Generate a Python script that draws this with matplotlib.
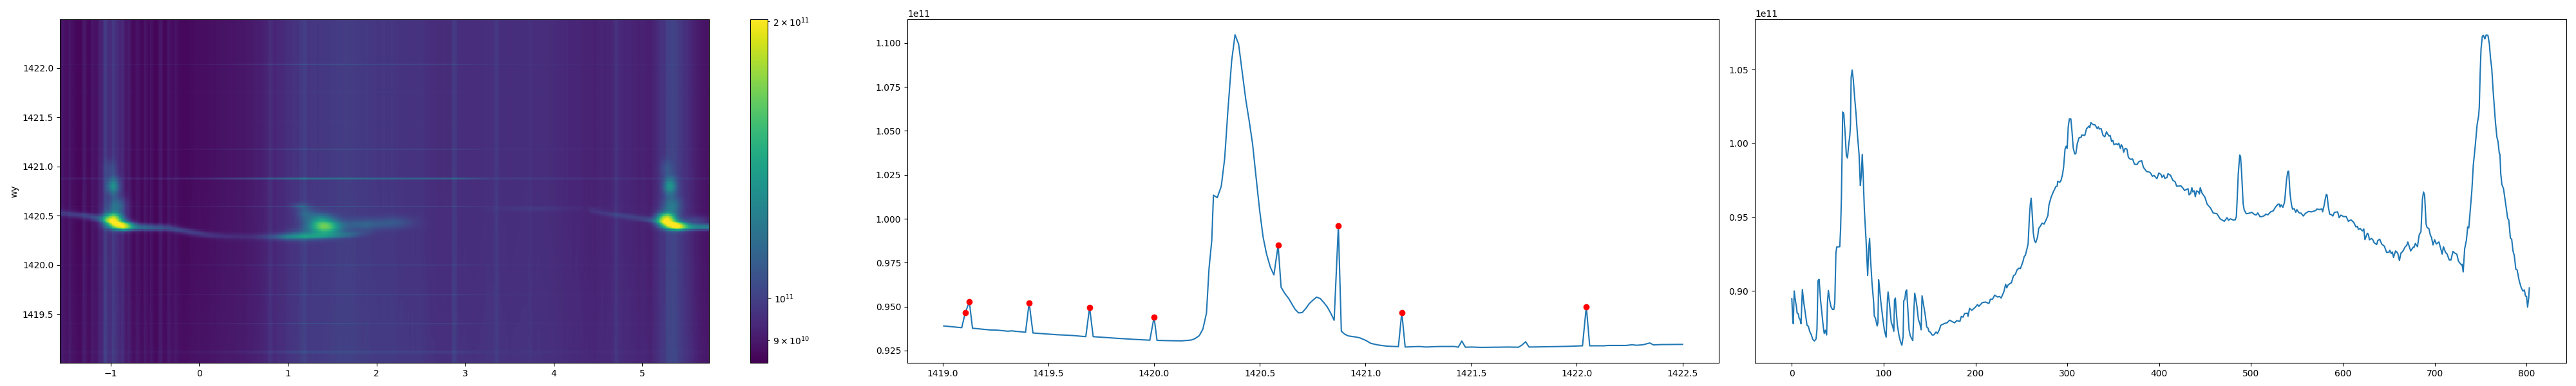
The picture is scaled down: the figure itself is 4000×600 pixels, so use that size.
import numpy as np
import matplotlib
matplotlib.use("Agg")
import matplotlib.pyplot as plt
from matplotlib.colors import LogNorm

# Panel 3: intensity against pixel index, in units of 1e11
col_idx = [0,1,1.6,2.6,3.5,5,5.8,7,8,9,10,11,11.5,13,15,16.6,18,19.4,21.3,22.7,24.6,26.4,27.4,28.5,29.7,31.3,33,34.4,35.3,36.5,37.9,38.8,39.8,41.2,42.6,44.2,45.8,46.8,48,48.9,52.2,53.1,54,55.4,56.6,58,59.4,60.6,61.8,63.2,63.9,64.6,65.7,66.9,68.5,69.9,71.3,73.2,74.6,75.6,76.7,77.7,79,80.7,82.6,83.7,84.7,85.6,87.3,89.1,89.8,91,91.9,92.9,93.8,94.5,95.4,97,98.9,100.8,102.7,104.1,104.8,106.4,108.3,109.7,111.1,111.8,112.7,113.7,114.9,116.5,118.1,119.8,121.2,121.9,123,124,125,126.3,127.7,128.9,130,131.7,132.9,133.8,135.2,136.4,137.8,139.4,140.8,141.8,143.4,145.3,146.9,148.3,149.2,150.9,152.7,154.6,157,158.6,160.9,162.1,166.6,169,171.8,177.2,179.5,183,184.6,186.5,188.1,191.2,191.9,193.5,195.9,199.8,202.2,203.6,207.5,211,214.6,216.2,218.5,220.9,223.9,226.2,227.9,230.9,232.8,234,235.6,239.1,241.4,243.3,245.2,247.3,248.9,251.5,253.1,254.3,256.2,257.3,258.7,259.7,260.6,261.5,262.9,264.1,265.5,267.6,268.8,270.6,272.5,274.6,276.9,278.8,280,282.3,284.7,287.5,288.9,289.6,291.7,292.8,294.7,295.9,297.5,298.7,299.8,301,302.2,303.8,305,306.4,308,309.2,310.8,312.7,315,315.7,319,320.9,323.7,324.4,325.6,327.4,330.2,332.6,333.7,334.9,336.8,338.9,340.8,342.6,345.4,346.6,348.2,349.6,350.8,353.1,354.8,356,357.8,358.7,360.1,361.3,362.9,364.8,366.5,368.8,371.1,373,375.8,378.1,381,382.8,386.3,389.8,391,392.6,394.4,397.5,399.6,401.9,403.1,405,406.1,408.5,409.6,412.4,414.8,417.4,419,423.7,426,427.6,431.4,432.5,434.2,435.6,436.7,438.2,439.3,440.7,442.8,443.8,444.7,446.6,449.8,452.2,455.9,458.7,462.9,466.4,470.9,473.9,475.5,477.4,480.5,482.8,484,484.9,486.1,487.7,488.6,489.8,491.4,492.6,494.9,497.3,500.8,504.3,505.9,507.3,509.7,511.3,514.8,516,518.3,521.3,524.2,526.5,529.3,530.7,531.6,532.8,534.7,536.3,537,538.6,540,541,542.4,544,545.2,547,548.7,549.9,552.2,554.5,556.9,559.2,562.7,565.8,570.4,571.6,574.4,577.2,577.9,579.5,580.7,581.9,582.8,584.2,585.6,587.7,589.1,590.8,594.3,595.9,597.8,600.8,603.6,606,608.8,611.8,614.2,615.8,617,618.8,621.2,622.8,624,626.6,627.7,628.9,631.2,632.9,634,636.8,638,640.1,642.2,645.2,647.6,650.4,651.1,652.7,653.9,655.1,657.4,659.7,661.6,663.2,665.1,667.9,669.5,670.7,673.8,676.6,677.3,678.9,681.2,683.1,685,686.6,687.8,689,690.6,691.8,693.6,695.3,696.4,698.1,699.9,701.8,704.6,708.1,709.5,711.8,713.5,715.8,717.7,719.8,721.7,724,725.9,727.5,729.1,729.8,731,732.6,734.5,735.9,737.1,738.5,740.4,742,743.9,746.2,747.8,748.5,749.5,750.4,751.8,753,754.6,756,757.9,759.5,760.7,762.1,763.7,766.1,767.7,768.9,770.3,771,771.9,773.1,774.9,776.6,778.2,779.4,780.6,782.4,783.8,785.2,786.6,788.3,789.7,792,794.1,796,797.6,798.8,800,801.1,802.3,803]
col_val = [.8948,.8807,.8778,.90,.8952,.8894,.885,.8846,.8814,.8807,.8778,.8940,.9010,.8923,.8836,.8766,.8761,.8727,.8702,.8673,.8661,.8676,.8741,.9068,.9079,.8938,.8836,.8749,.8712,.8734,.8702,.8923,.9003,.8938,.8894,.8875,.8875,.8923,.9257,.9298,.93,.9417,.9635,1.0213,1.0202,1.0071,.9919,.9901,.9984,1.0057,1.0129,1.0449,1.0497,1.0435,1.0304,1.0202,1.0071,.9926,.9715,.978,.9926,.978,.9548,.9359,.9105,.9286,.9356,.9228,.9054,.8923,.8829,.8817,.8792,.8763,.8785,.9076,.9025,.8923,.8821,.8734,.8687,.8938,.8993,.8908,.8785,.8763,.8727,.8938,.8952,.8865,.8770,.8705,.8661,.8632,.869,.8935,.8942,.8996,.9007,.8880,.8734,.8698,.8683,.8664,.8865,.8985,.8938,.8887,.8807,.8778,.8737,.8967,.8908,.8836,.8756,.8748,.8727,.8720,.8702,.8702,.8722,.8712,.8741,.8767,.8781,.8784,.8802,.8784,.8799,.8794,.8828,.8823,.8847,.8850,.8828,.8882,.8869,.8890,.8908,.8896,.8922,.8925,.8915,.8944,.8944,.8972,.8959,.8963,.8952,.8995,.9046,.9021,.9042,.9056,.9104,.9111,.9143,.9155,.9152,.9196,.9235,.9242,.9290,.9322,.9504,.9591,.9628,.9548,.9395,.9344,.9327,.9366,.9424,.9439,.9460,.9453,.9482,.9511,.9584,.9635,.9671,.9708,.9710,.9744,.9737,.9744,.9788,.9838,.9962,.9981,.9966,1.0115,1.0166,1.0166,1.0086,.9969,.9929,.9929,.9998,1.0038,1.0042,1.0057,1.0054,1.0100,1.0118,1.0107,1.0141,1.0129,1.0125,1.0100,1.0112,1.0097,1.0100,1.0054,1.0045,1.0078,1.0049,1.0054,1.0013,1.002,.9991,.9998,.9991,1.0001,.9965,.9991,.9977,.9940,.9966,.9962,.9904,.9892,.9894,.9860,.9857,.9878,.9882,.9838,.9809,.9805,.9795,.9777,.9783,.9761,.9799,.9790,.9770,.9785,.9763,.9769,.9795,.9783,.9751,.9739,.9710,.9712,.9696,.9681,.9693,.9652,.9660,.9700,.9671,.9678,.9639,.9678,.9671,.9657,.9700,.9664,.9635,.9588,.9562,.9529,.9523,.9489,.9472,.9497,.9479,.9489,.9481,.9482,.9504,.9620,.9795,.9921,.9911,.9795,.9591,.9548,.9523,.9526,.9533,.9516,.9516,.9529,.9504,.9503,.9511,.9521,.9516,.9536,.9543,.9567,.9588,.9588,.9569,.9584,.9567,.9598,.9635,.9751,.9809,.9812,.9664,.9584,.9555,.9558,.9533,.9551,.9530,.9527,.9508,.9526,.9539,.9536,.9545,.9555,.9552,.9556,.9536,.9577,.9620,.9654,.9649,.9569,.9521,.9516,.9508,.9533,.9536,.9497,.9514,.9504,.9504,.9472,.9482,.9465,.9434,.9438,.9417,.9424,.9407,.9420,.9348,.9391,.9385,.9347,.9356,.9344,.9327,.9315,.9341,.9351,.9319,.9303,.9261,.9264,.9276,.9254,.9264,.9228,.9271,.9257,.9206,.9257,.9267,.9300,.9308,.9332,.9271,.9297,.9293,.9322,.9300,.9380,.9402,.9620,.9671,.9649,.9453,.9428,.9424,.9376,.9366,.9312,.9347,.9318,.9332,.9250,.9300,.9261,.9250,.9210,.9210,.9268,.9257,.9250,.9201,.9188,.9177,.9181,.9129,.9286,.9344,.9434,.9427,.9533,.9678,.9853,.9969,1.0129,1.0187,1.0246,1.0478,1.0638,1.0725,1.0733,1.0708,1.0735,1.0733,1.0674,1.0580,1.0507,1.0347,1.0144,1.0042,1.0013,.9933,.9926,.9795,.9722,.9693,.9620,.9548,.9492,.9482,.9358,.9351,.9271,.9242,.9148,.9143,.9068,.9024,.8999,.9007,.8966,.8963,.8890,.8951,.9021]

# Panel 2: intensity against WY, in units of 1e11
row_y = [1419.005,1419.09,1419.107,1419.126,1419.141,1419.226,1419.259,1419.308,1419.325,1419.392,1419.409,1419.427,1419.541,1419.611,1419.677,1419.695,1419.712,1419.833,1419.914,1419.98,1420.0,1420.014,1420.077,1420.13,1420.177,1420.194,1420.214,1420.231,1420.248,1420.26,1420.273,1420.281,1420.299,1420.318,1420.334,1420.349,1420.367,1420.383,1420.4,1420.415,1420.434,1420.451,1420.466,1420.483,1420.5,1420.516,1420.532,1420.55,1420.567,1420.587,1420.601,1420.618,1420.637,1420.652,1420.667,1420.684,1420.701,1420.719,1420.735,1420.752,1420.769,1420.786,1420.802,1420.82,1420.837,1420.852,1420.872,1420.886,1420.903,1420.92,1420.954,1420.974,1421.003,1421.025,1421.058,1421.101,1421.156,1421.172,1421.188,1421.254,1421.286,1421.351,1421.422,1421.439,1421.456,1421.473,1421.504,1421.547,1421.613,1421.678,1421.724,1421.738,1421.758,1421.774,1421.885,1421.961,1422.027,1422.045,1422.061,1422.129,1422.146,1422.233,1422.262,1422.282,1422.314,1422.345,1422.363,1422.401,1422.5]
row_val = [.9390,.9380,.9466,.9528,.9377,.9367,.9366,.9360,.9362,.9354,.9522,.9350,.9340,.9336,.9329,.9495,.9329,.9319,.9313,.9309,.9440,.9308,.9306,.9305,.9310,.9318,.9335,.9372,.9463,.9716,.9876,1.0134,1.0120,1.0185,1.0342,1.0610,1.0897,1.1047,1.0994,1.0854,1.0677,1.0549,1.0427,1.0232,1.0043,.9895,.9800,.9725,.9680,.9849,.9610,.9576,.9546,.9515,.9485,.9464,.9466,.9491,.9518,.9537,.9554,.9546,.9525,.9497,.9460,.9422,.9960,.9360,.9342,.9333,.9327,.9322,.9307,.9291,.9282,.9275,.9272,.9467,.9270,.9273,.9270,.9273,.9273,.9269,.9304,.9269,.9270,.9268,.9269,.9270,.9269,.9279,.9300,.9270,.9272,.9274,.9277,.9500,.9277,.9277,.9279,.9279,.9283,.9280,.9283,.9293,.9282,.9284,.9285]

# Red markers of panel 2
peak_y = [1419.107,1419.126,1419.409,1419.695,1420.0,1420.587,1420.872,1421.172,1422.045]
peak_val = [.9466,.9528,.9522,.9495,.9440,.9849,.9960,.9467,.9500]

# Heatmap: the 2-D image cannot be read cell by cell, so it is composed from what is
# readable: the two profiles above plus the bright features located on the picture.
# blobs: x centre, y centre, excess (1e11), x width, y width
blob_x = [-.97,-.87,-.97,-.93,-1.0,1.42,1.36,1.2,1.13,1.85,2.2,1.2,5.27,5.38,5.31,5.33,5.27,5.62,3.8]
blob_y = [1420.46,1420.40,1420.80,1420.60,1420.98,1420.385,1420.46,1420.53,1420.60,1420.41,1420.43,1420.31,1420.46,1420.40,1420.80,1420.60,1420.98,1420.45,1420.57]
blob_a = [.92,.78,.33,.22,.08,.62,.22,.12,.08,.13,.10,.12,.97,.82,.33,.20,.08,.10,.03]
blob_sx = [.07,.08,.05,.07,.05,.12,.10,.07,.06,.15,.15,.15,.07,.08,.05,.07,.05,.10,.35]
blob_sy = [.045,.03,.06,.06,.06,.05,.05,.05,.02,.04,.04,.04,.045,.03,.06,.06,.06,.03,.015]
# thin ridges: x, centre line y, excess
ridge_x = [-1.6,-1.3,-1.05,-.85,-.6,-.35,-.1,.1,.3,.6,.8,1.0,1.2,1.5,1.7,1.85,2.0]
ridge_y = [1420.53,1420.50,1420.46,1420.385,1420.38,1420.375,1420.335,1420.305,1420.29,1420.285,1420.285,1420.285,1420.29,1420.30,1420.31,1420.32,1420.33]
ridge_a = [.10,.13,.18,.30,.26,.17,.13,.09,.06,.05,.10,.26,.28,.20,.14,.05,0]
ridge2_x = [4.38,4.42,4.6,5.0,5.2,5.4,5.5,5.76]
ridge2_y = [1420.56,1420.55,1420.52,1420.47,1420.44,1420.385,1420.385,1420.385]
ridge2_a = [0,.04,.06,.09,.15,.33,.36,.34]
# strength of the horizontal lines along x
line_x = [-1.6,-.5,0,.8,1.2,2.0,2.9,3.3,5.76]
line_m = [.4,.6,.9,2.2,3,2.2,2.2,.6,.35]
# baseline of the rows, excess against mean
base_y = [1419,1420.1,1421,1422.5]
base_d = [.009,0,-.003,-.003]

# ---------- heatmap ----------
extent_x = (-1.571, 5.752)
extent_y = (1419.0, 1422.5)
n_col, n_row = 804, 236
X = np.linspace(extent_x[0], extent_x[1], n_col)
Y = np.linspace(extent_y[0], extent_y[1], n_row)
XX, YY = np.meshgrid(X, Y)
F = np.zeros_like(XX)
for bx, by, a, sx, sy in zip(blob_x, blob_y, blob_a, blob_sx, blob_sy):
    F += a * np.exp(-(XX - bx) ** 2 / (2 * sx ** 2) - (YY - by) ** 2 / (2 * sy ** 2))
for rx, ry, ra, sy in ((ridge_x, ridge_y, ridge_a, .022), (ridge2_x, ridge2_y, ridge2_a, .02)):
    yc = np.interp(X, rx, ry)
    amp = np.interp(X, rx, ra, left=0, right=0)
    F += amp * np.exp(-(YY - yc) ** 2 / (2 * sy ** 2))
# column background: profile of panel 3 less what the features add to it
bg = np.interp(np.arange(n_col), col_idx, col_val) - F.mean(axis=0)
# horizontal lines: red peaks and two small ones, snapped on the rows
m = np.interp(X, line_x, line_m)
L = np.zeros(n_row)
dy = Y[1] - Y[0]
for py, pv in zip(peak_y + [1421.456, 1421.758], peak_val + [.9304, .9300]):
    base = np.interp(py, [row_y[0], 1420.13, 1421.1, row_y[-1]], [.939, .9305, .9273, .9285])
    if py == 1420.587:
        base = .965
    L[int(round((py - extent_y[0]) / dy))] += pv - base
Z = bg[None, :] + np.interp(Y, base_y, base_d)[:, None] + L[:, None] * m[None, :] + F

# ---------- figure ----------
W, H = 4000, 600
fig = plt.figure(figsize=(40, 6), dpi=100)

def axes_px(x0, x1, y0=30, y1=564):
    return fig.add_axes([x0 / W, 1 - y1 / H, (x1 - x0) / W, (y1 - y0) / H])

ax1 = axes_px(93, 1101)
cax = axes_px(1165, 1192)
ax2 = axes_px(1409, 2669)
ax3 = axes_px(2725, 3985)

norm = LogNorm(vmin=8.5e10, vmax=2.01e11)
im = ax1.pcolormesh(X, Y, Z * 1e11, shading='nearest', cmap='viridis', norm=norm, rasterized=True)
ax1.set_xlim(extent_x)
ax1.set_ylim(1419.005, 1422.495)
ax1.set_ylabel('wy')
fig.colorbar(im, cax=cax)

ax2.plot(row_y, np.array(row_val) * 1e11)
ax2.plot(peak_y, np.array(peak_val) * 1e11, 'ro')
ax2.set_xlim(1418.833, 1422.672)
ax2.set_ylim(.9180e11, 1.1135e11)

ax3.plot(col_idx, np.array(col_val) * 1e11)
ax3.set_xlim(-40.2, 843.3)
ax3.set_ylim(.8513e11, 1.0841e11)

fig.savefig('out.png', dpi=100)
